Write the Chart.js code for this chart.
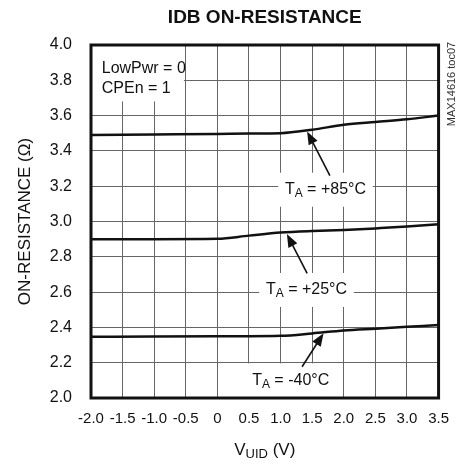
<!DOCTYPE html>
<html>
<head>
<meta charset="utf-8">
<script src="https://cdn.jsdelivr.net/npm/chart.js@4.4.1/dist/chart.umd.min.js"></script>
<style>
  html, body { margin: 0; padding: 0; background: #fff; }
  #wrap { width: 461px; height: 466px; }
</style>
</head>
<body>
<div id="wrap"><canvas id="chart" width="461" height="466"></canvas></div>
<script>
// Data
const vuid = [-2.0, -1.0, 0, 0.5, 1.0, 1.5, 2.0, 2.5, 3.0, 3.5];
const ron85 = [3.49, 3.493, 3.496, 3.498, 3.50, 3.52, 3.548, 3.564, 3.579, 3.60];
const ron25 = [2.90, 2.90, 2.902, 2.92, 2.937, 2.946, 2.952, 2.961, 2.971, 2.984];
const ronM40 = [2.347, 2.349, 2.35, 2.35, 2.352, 2.366, 2.383, 2.393, 2.403, 2.413];

const xTickLabels = ['-2.0', '-1.5', '-1.0', '-0.5', '0', '0.5', '1.0', '1.5', '2.0', '2.5', '3.0', '3.5'];
const yTickLabels = ['2.0', '2.2', '2.4', '2.6', '2.8', '3.0', '3.2', '3.4', '3.6', '3.8', '4.0'];

// Curve labels: text, label position, arrow tail, arrow tip (data units)
const curveLabels = [
  { temp: ' = +85°C', at: [1.71, 3.18], tail: [1.78, 3.26], tip: [1.42, 3.51] },
  { temp: ' = +25°C', at: [1.41, 2.612], tail: [1.42, 2.706], tip: [1.10, 2.929] },
  { temp: ' = -40°C', at: [1.16, 2.10], tail: [1.34, 2.177], tip: [1.68, 2.367] },
];
const condLines = ['LowPwr = 0', 'CPEn = 1'];

const FONT = "'Liberation Sans', Arial, sans-serif";

function toPts(ys) {
  return vuid.map((x, i) => ({ x, y: ys[i] }));
}

function lineSet(ys) {
  return {
    data: toPts(ys),
    borderColor: '#111',
    borderWidth: 2.5,
    pointRadius: 0,
    cubicInterpolationMode: 'monotone',
    fill: false,
  };
}

// draw "T" + subscript "A" + rest, centred at x
function drawTA(ctx, rest, cx, cy) {
  ctx.font = '16px ' + FONT;
  const wT = ctx.measureText('T').width;
  const wR = ctx.measureText(rest).width;
  ctx.font = '12px ' + FONT;
  const wA = ctx.measureText('A').width;
  const total = wT + wA + wR;
  let x = cx - total / 2;
  ctx.textAlign = 'left';
  ctx.textBaseline = 'middle';
  ctx.fillStyle = '#111';
  ctx.font = '16px ' + FONT;
  ctx.fillText('T', x, cy);
  x += wT;
  ctx.font = '12px ' + FONT;
  ctx.fillText('A', x, cy + 4);
  x += wA;
  ctx.font = '16px ' + FONT;
  ctx.fillText(rest, x, cy);
  return total;
}

function arrow(ctx, x0, y0, x1, y1) {
  const ang = Math.atan2(y1 - y0, x1 - x0);
  const headLen = 13, headW = 5;
  ctx.strokeStyle = '#111';
  ctx.lineWidth = 1.6;
  ctx.beginPath();
  ctx.moveTo(x0, y0);
  ctx.lineTo(x1 - Math.cos(ang) * headLen * 0.8, y1 - Math.sin(ang) * headLen * 0.8);
  ctx.stroke();
  ctx.fillStyle = '#111';
  ctx.beginPath();
  ctx.moveTo(x1, y1);
  ctx.lineTo(x1 - Math.cos(ang) * headLen + Math.sin(ang) * headW, y1 - Math.sin(ang) * headLen - Math.cos(ang) * headW);
  ctx.lineTo(x1 - Math.cos(ang) * headLen - Math.sin(ang) * headW, y1 - Math.sin(ang) * headLen + Math.cos(ang) * headW);
  ctx.closePath();
  ctx.fill();
}

const decorPlugin = {
  id: 'decor',
  beforeDatasetsDraw(chart) {
    const { ctx, chartArea: a, scales: { x, y } } = chart;
    ctx.save();
    ctx.fillStyle = '#fff';
    // condition box top-left
    ctx.fillRect(a.left, a.top, x.getPixelForValue(-0.53) - a.left, y.getPixelForValue(3.68) - a.top);
    // label boxes
    ctx.font = '16px ' + FONT;
    curveLabels.forEach(l => {
      const cx = x.getPixelForValue(l.at[0]);
      const cy = y.getPixelForValue(l.at[1]);
      const w = ctx.measureText('TA' + l.temp).width;
      ctx.fillRect(cx - w / 2 - 6, cy - 17, w + 12, 34);
    });
    ctx.restore();
  },
  afterDatasetsDraw(chart) {
    const { ctx, scales: { x, y } } = chart;
    ctx.save();
    curveLabels.forEach(l => {
      drawTA(ctx, l.temp, x.getPixelForValue(l.at[0]), y.getPixelForValue(l.at[1]));
      arrow(ctx, x.getPixelForValue(l.tail[0]), y.getPixelForValue(l.tail[1]),
        x.getPixelForValue(l.tip[0]), y.getPixelForValue(l.tip[1]));
    });
    ctx.font = '16px ' + FONT;
    ctx.textAlign = 'left';
    ctx.textBaseline = 'middle';
    ctx.fillStyle = '#111';
    condLines.forEach((t, i) => {
      ctx.fillText(t, x.getPixelForValue(-1.83), y.getPixelForValue(3.867 - i * 0.113));
    });
    ctx.restore();
  },
  afterDraw(chart) {
    const { ctx, chartArea: a } = chart;
    ctx.save();
    // frame
    ctx.strokeStyle = '#111';
    ctx.lineWidth = 3;
    ctx.strokeRect(a.left, a.top, a.right - a.left, a.bottom - a.top);
    // chart title
    ctx.fillStyle = '#111';
    ctx.textAlign = 'center';
    ctx.textBaseline = 'middle';
    ctx.font = 'bold 19px ' + FONT;
    ctx.fillText('IDB ON-RESISTANCE', (a.left + a.right) / 2, 18);
    // x axis title with subscript
    ctx.font = '17px ' + FONT;
    const wV = ctx.measureText('V').width;
    const wRest = ctx.measureText(' (V)').width;
    ctx.font = '13px ' + FONT;
    const wSub = ctx.measureText('UID').width;
    let tx = (a.left + a.right) / 2 - (wV + wSub + wRest) / 2;
    const ty = 450;
    ctx.textAlign = 'left';
    ctx.font = '17px ' + FONT;
    ctx.fillText('V', tx, ty);
    tx += wV;
    ctx.font = '13px ' + FONT;
    ctx.fillText('UID', tx, ty + 4);
    tx += wSub;
    ctx.font = '17px ' + FONT;
    ctx.fillText(' (V)', tx, ty);
    // figure id
    ctx.translate(452, 84);
    ctx.rotate(-Math.PI / 2);
    ctx.textAlign = 'center';
    ctx.font = '11px ' + FONT;
    ctx.fillStyle = '#333';
    ctx.fillText('MAX14616 toc07', 0, 0);
    ctx.restore();
  }
};

new Chart(document.getElementById('chart'), {
  type: 'line',
  data: {
    datasets: [lineSet(ron85), lineSet(ron25), lineSet(ronM40)],
  },
  options: {
    responsive: false,
    animation: false,
    layout: { padding: { top: 45, right: 18, left: 0, bottom: 0 } },
    plugins: { legend: { display: false }, tooltip: { enabled: false } },
    scales: {
      x: {
        type: 'linear',
        min: -2,
        max: 3.5,
        afterFit(scale) { scale.height = 68; },
        ticks: {
          stepSize: 0.5,
          autoSkip: false,
          maxRotation: 0,
          padding: 12,
          color: '#111',
          font: { family: FONT, size: 15 },
          callback: (v, i) => xTickLabels[i],
        },
        grid: { color: '#666', lineWidth: 1, drawTicks: false },
        border: { display: false },
      },
      y: {
        min: 2,
        max: 4,
        afterFit(scale) { scale.width = 91; },
        ticks: {
          stepSize: 0.2,
          padding: 19,
          color: '#111',
          font: { family: FONT, size: 16 },
          callback: (v, i) => yTickLabels[i],
        },
        grid: { color: '#666', lineWidth: 1, drawTicks: false },
        border: { display: false },
        title: {
          display: true,
          text: 'ON-RESISTANCE (Ω)',
          color: '#111',
          font: { family: FONT, size: 17 },
          padding: { top: 15, bottom: 0 },
        },
      },
    },
  },
  plugins: [decorPlugin],
});
</script>
</body>
</html>
